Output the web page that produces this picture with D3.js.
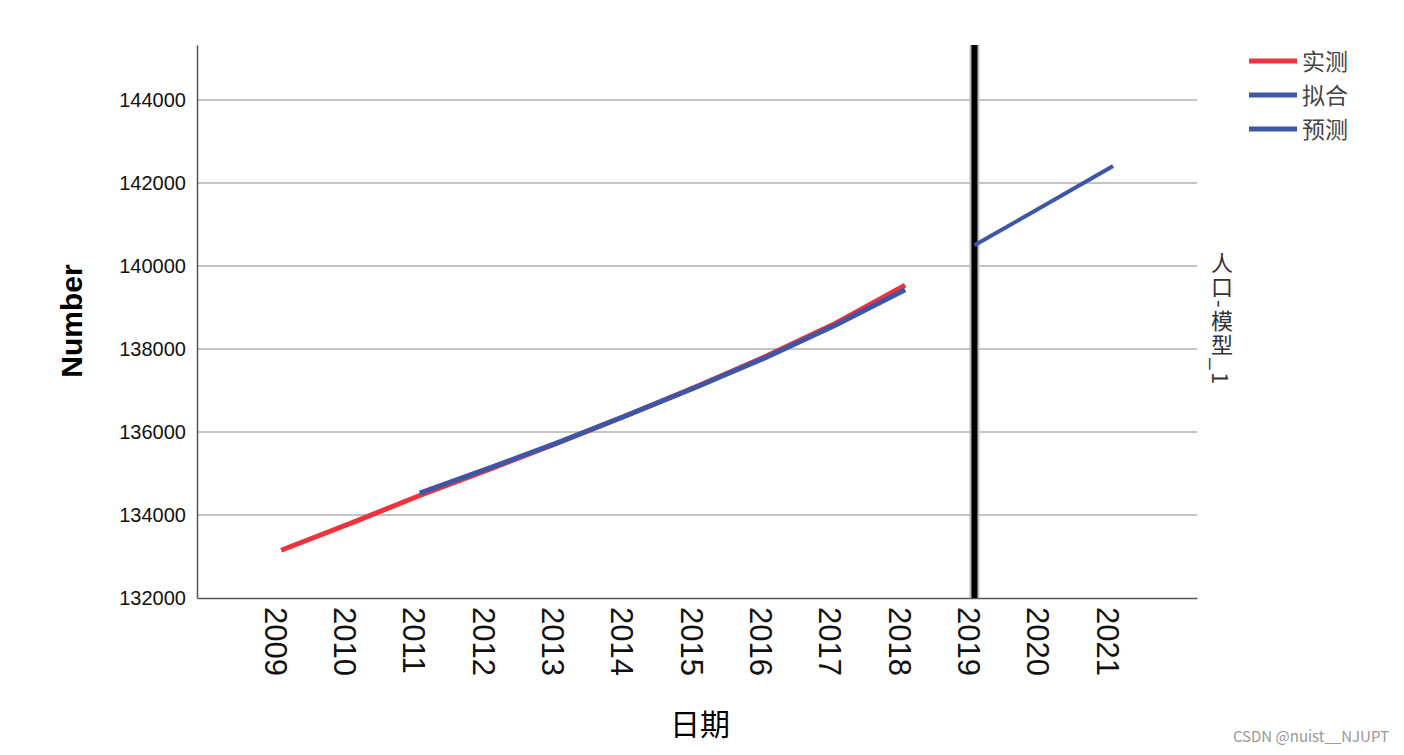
<!DOCTYPE html>
<html><head><meta charset="utf-8">
<script src="https://cdn.jsdelivr.net/npm/d3@7"></script>
<style>body{margin:0;background:#fff}svg{display:block}</style>
</head><body><svg id="c" width="1404" height="755"></svg>
<script>
const years = [2009,2010,2011,2012,2013,2014,2015,2016,2017,2018,2019,2020,2021];
const observedYears = [2009,2010,2011,2012,2013,2014,2015,2016,2017,2018];
const observed = [133150,133800,134470,135100,135740,136410,137100,137830,138620,139540];
const fitYears = [2011,2012,2013,2014,2015,2016,2017,2018];
const fitted = [134530,135130,135750,136410,137090,137800,138580,139430];
const forecastYears = [2019,2020,2021];
const forecast = [140500,141450,142410];
const yTicks = [132000,134000,136000,138000,140000,142000,144000];
const legendLabels = ["实测","拟合","预测"];
const forecastStart = 2019;

const svg = d3.select("#c");
const L=197,R=1197,T=45,B=598;
const x = d3.scaleLinear().domain([2007.787,2022.21]).range([L,R]);
const y = d3.scaleLinear().domain([132000,145325]).range([B,T]);
const cjk = "'Noto Sans CJK SC','Noto Sans CJK JP',sans-serif";
const lat = "'Liberation Sans',Arial,sans-serif";

// gridlines
svg.append("g").selectAll("line").data(yTicks.slice(1)).join("line")
  .attr("x1",L).attr("x2",R).attr("y1",d=>y(d)).attr("y2",d=>y(d))
  .attr("stroke","#c4c4c4").attr("stroke-width",2);

// y axis
const ya = svg.append("g").attr("transform",`translate(${L},0)`)
  .call(d3.axisLeft(y).tickValues(yTicks).tickSize(0).tickPadding(11).tickFormat(d3.format("d")));
ya.select(".domain").attr("stroke","#555").attr("stroke-width",1.5);
ya.selectAll("text").attr("font-family",lat).attr("font-size",20).attr("fill","#111");

// x axis
const xa = svg.append("g").attr("transform",`translate(0,${B})`)
  .call(d3.axisBottom(x).tickValues(years).tickSize(0).tickFormat(d3.format("d")));
xa.select(".domain").attr("stroke","#555").attr("stroke-width",1.5);
xa.selectAll("text").attr("font-family",lat).attr("font-size",31).attr("fill","#111")
  .attr("text-anchor","start").attr("dy",null).attr("y",0)
  .attr("transform",d=>`translate(${-17},9) rotate(90)`);

// forecast vertical line
svg.append("line").attr("x1",x(forecastStart)).attr("x2",x(forecastStart)).attr("y1",T).attr("y2",B)
  .attr("stroke","#bbb").attr("stroke-width",10);
svg.append("line").attr("x1",x(forecastStart)).attr("x2",x(forecastStart)).attr("y1",T).attr("y2",B)
  .attr("stroke","#000").attr("stroke-width",6);

const line = d3.line().x(d=>x(d[0])).y(d=>y(d[1]));
const red = "#f0323c", blue = "#3d56a6";
svg.append("path").datum(observedYears.map((d,i)=>[d,observed[i]])).attr("d",line)
  .attr("fill","none").attr("stroke",red).attr("stroke-width",5);
svg.append("path").datum(fitYears.map((d,i)=>[d,fitted[i]])).attr("d",line)
  .attr("fill","none").attr("stroke",blue).attr("stroke-width",5);
svg.append("path").datum(forecastYears.map((d,i)=>[d,forecast[i]])).attr("d",line)
  .attr("fill","none").attr("stroke",blue).attr("stroke-width",4);

// legend
const legColors=[red,blue,blue];
const lg = svg.append("g");
legendLabels.forEach((t,i)=>{
  const yy = 61 + i*34;
  lg.append("line").attr("x1",1249).attr("x2",1297).attr("y1",yy).attr("y2",yy)
    .attr("stroke",legColors[i]).attr("stroke-width",5);
  lg.append("text").attr("x",1302).attr("y",yy).attr("dy","0.38em").text(t)
    .attr("font-family",cjk).attr("font-size",23).attr("fill","#444");
});

// axis titles
svg.append("text").attr("transform","translate(82,321) rotate(-90)").attr("text-anchor","middle")
  .attr("font-family",lat).attr("font-weight","bold").attr("font-size",30).attr("fill","#000").text("Number");
svg.append("text").attr("x",700).attr("y",735).attr("text-anchor","middle")
  .attr("font-family",cjk).attr("font-size",30).attr("fill","#000").text("日期");

// right vertical label
svg.append("text").attr("x",1222).attr("y",252).text("人口-模型_1")
  .style("writing-mode","vertical-rl").style("text-orientation","mixed")
  .attr("font-family",cjk).attr("font-size",22).attr("letter-spacing",2).attr("fill","#333");

svg.append("text").attr("x",1389).attr("y",742).attr("text-anchor","end")
  .attr("font-family",cjk).attr("font-size",15).attr("fill","#999").text("CSDN @nuist__NJUPT");
</script></body></html>
